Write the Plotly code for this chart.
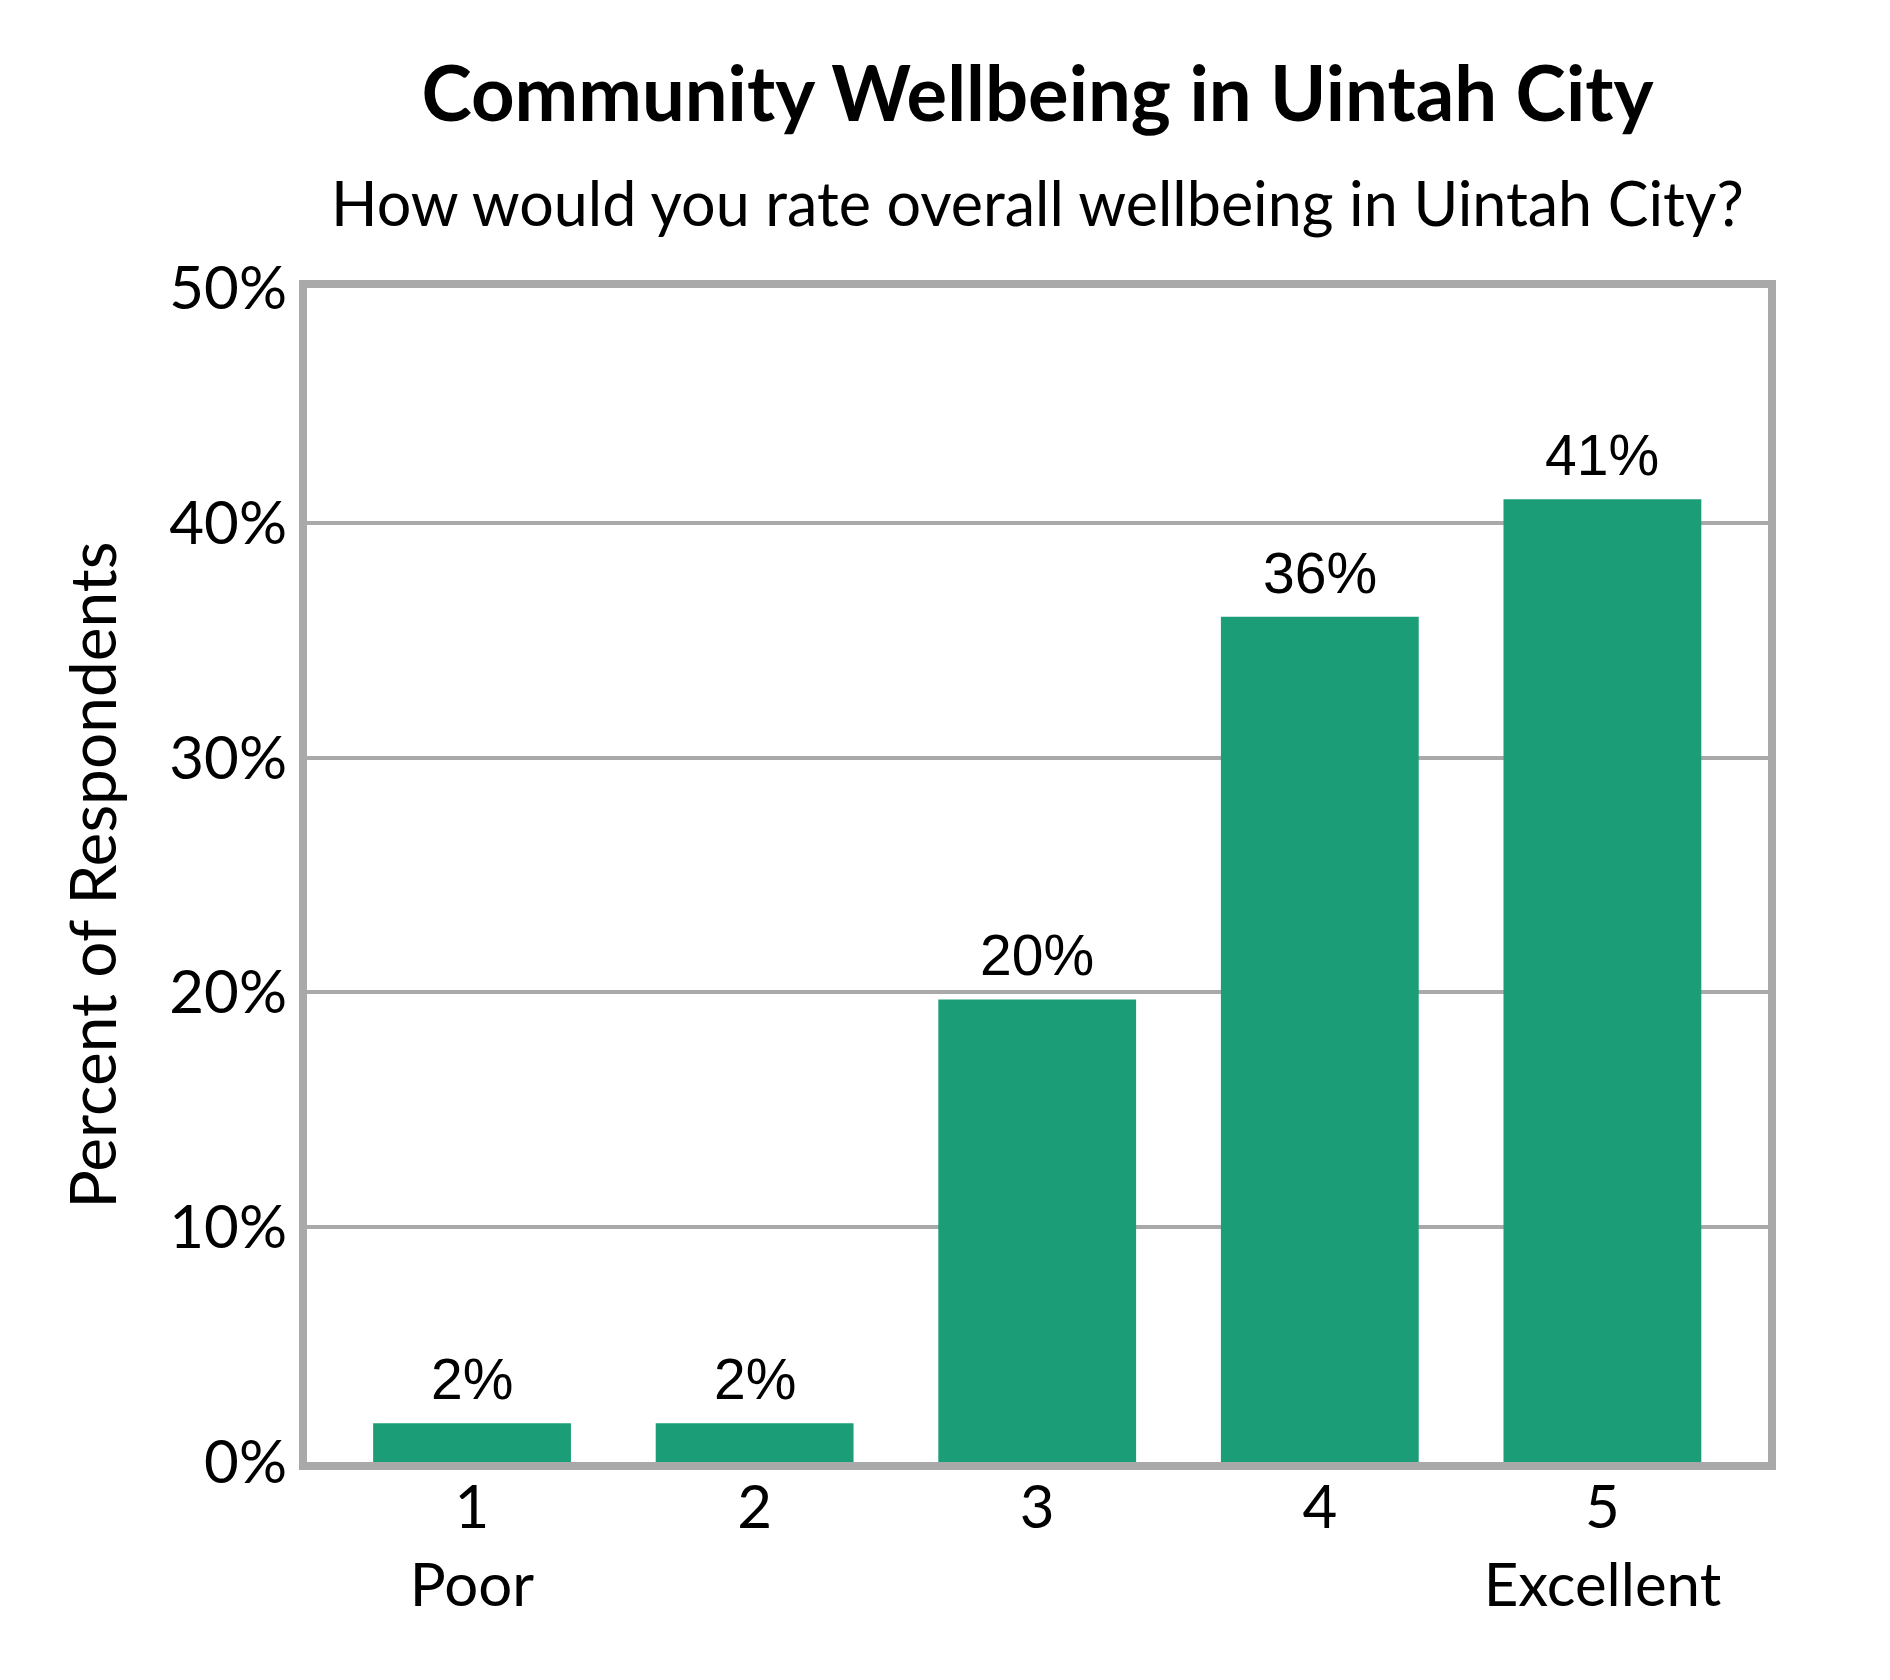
import plotly.graph_objects as go

# survey results (percent of respondents)
ratings = [1, 2, 3, 4, 5]
rating_text = ["1<br>Poor", "2", "3", "4", "5<br>Excellent"]
percents = [1.65, 1.65, 19.7, 36.0, 41.0]
y_ticks = [0, 10, 20, 30, 40, 50]
y_tick_text = [f"{v}%" for v in y_ticks]

green = "#1b9e77"
grey = "#a9a9a9"
font = "Lato"

fig = go.Figure()
fig.add_trace(go.Bar(
    x=ratings,
    y=percents,
    width=0.7,
    marker=dict(color=green, line=dict(width=0)),
    hoverinfo="skip",
))

# value labels above bars
for r, p in zip(ratings, percents):
    fig.add_annotation(
        x=r, y=p, xref="x", yref="y",
        text=f"{round(p)}%",
        showarrow=False,
        yanchor="bottom",
        yshift=10,
        font=dict(family="Liberation Sans, Arial", size=57, color="black"),
    )

fig.add_annotation(
    x=0.5, y=1, xref="paper", yref="paper",
    text="How would you rate overall wellbeing in Uintah City?",
    showarrow=False, xanchor="center", yanchor="middle",
    yshift=86,
    font=dict(family=font, size=61, color="black"),
)

fig.update_layout(
    width=1890,
    height=1680,
    paper_bgcolor="white",
    plot_bgcolor="white",
    showlegend=False,
    margin=dict(l=299, r=130, t=280, b=226),
    title=dict(
        text="<b>Community Wellbeing in Uintah City</b>",
        x=0.5, xref="paper", xanchor="center",
        y=1 - 86 / 1680, yanchor="middle",
        font=dict(family=font, size=76, color="black"),
    ),
    xaxis=dict(
        range=[0.416, 5.586],
        tickvals=ratings,
        ticktext=rating_text,
        showgrid=False,
        zeroline=False,
        showline=True, linecolor=grey, linewidth=8, mirror=True,
        ticks="",
        ticklabelstandoff=-14,
        tickfont=dict(family=font, size=60, color="black"),
    ),
    yaxis=dict(
        range=[0, 50],
        tickvals=y_ticks,
        ticktext=y_tick_text,
        showgrid=True, gridcolor=grey, gridwidth=4,
        zeroline=False,
        showline=True, linecolor=grey, linewidth=8, mirror=True,
        ticks="",
        tickfont=dict(family=font, size=60, color="black"),
        title=dict(text="Percent of Respondents", standoff=35,
                   font=dict(family=font, size=64, color="black")),
    ),
)

fig.write_html("out.html")
